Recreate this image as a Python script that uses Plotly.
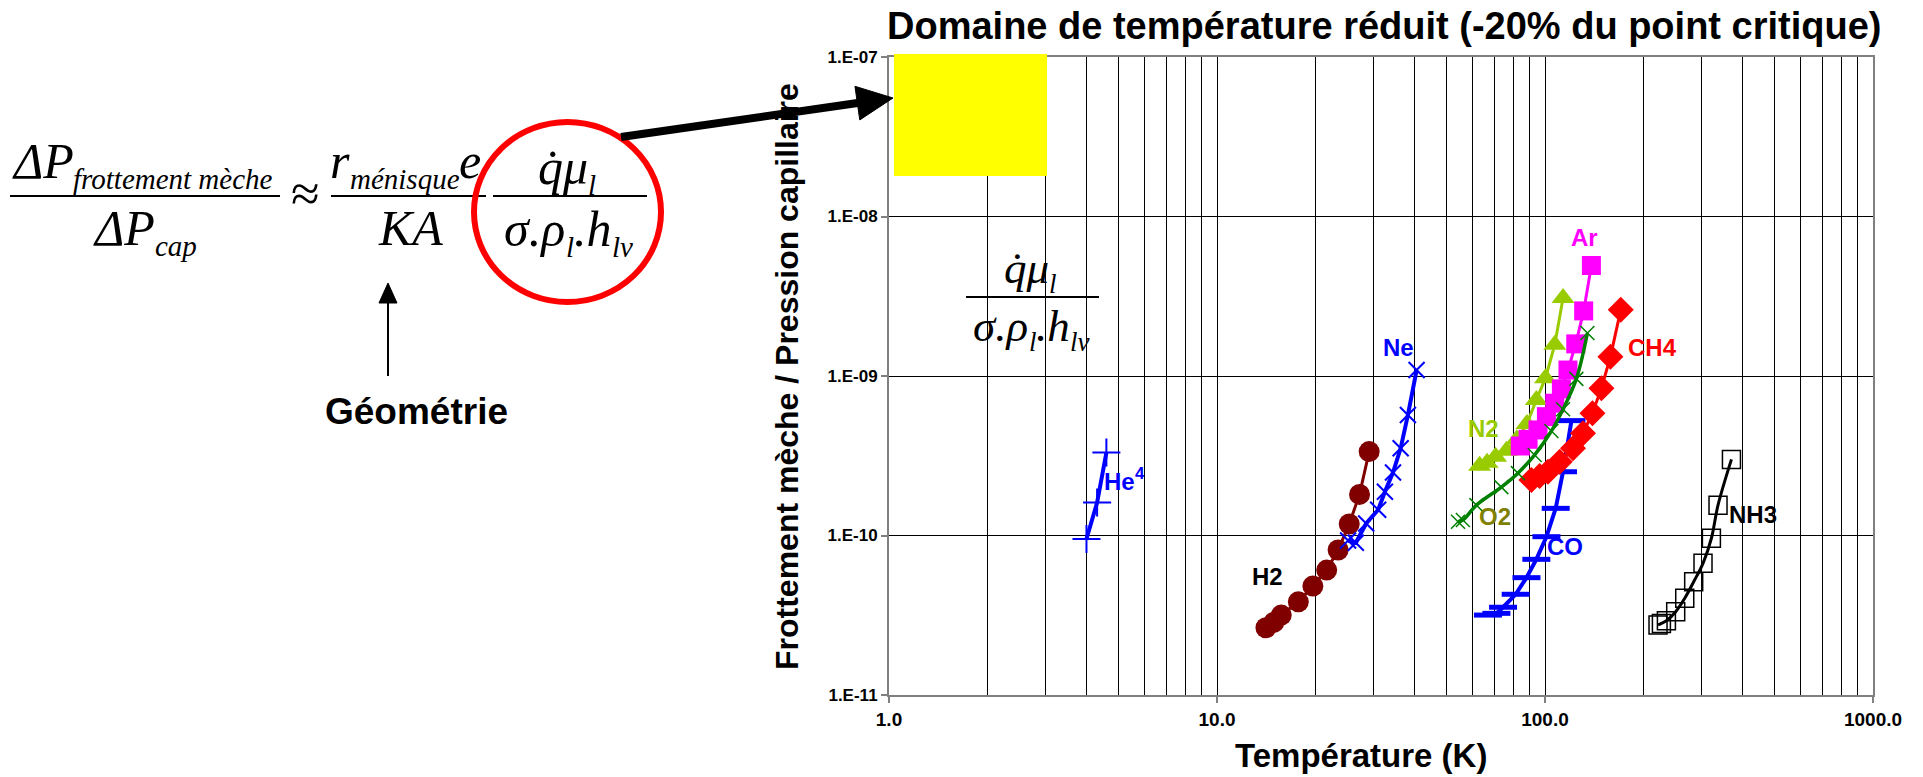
import numpy as np
import plotly.graph_objects as go

# ---------------------------------------------------------------
# Frottement mèche / pression capillaire en fonction de T (K)
# ---------------------------------------------------------------
he4_t = [4.0, 4.31, 4.60]
he4_r = [9.5e-11, 1.61e-10, 3.31e-10]

h2_t = [14.1, 14.9, 15.7, 17.7, 19.6, 21.6, 23.4, 25.3, 27.2, 29.1]
h2_r = [2.64e-11, 2.85e-11, 3.17e-11, 3.84e-11, 4.82e-11, 6.07e-11,
        8.11e-11, 1.18e-10, 1.81e-10, 3.36e-10]

ne_t = [25.1, 26.5, 28.5, 31.0, 32.5, 34.4, 36.3, 38.2, 40.6]
ne_r = [9.3e-11, 9.0e-11, 1.19e-10, 1.45e-10, 1.88e-10, 2.48e-10,
        3.52e-10, 5.70e-10, 1.09e-9]

n2_t = [63.2, 66.6, 70.7, 76.3, 82.1, 88.1, 94.1, 100.3, 107.1, 113.5]
n2_r = [2.74e-10, 2.86e-10, 3.12e-10, 3.40e-10, 4.01e-10, 5.01e-10,
        7.08e-10, 9.69e-10, 1.57e-9, 3.08e-9]

ar_t = [84.1, 88.8, 95.2, 101.0, 107.1, 112.2, 117.5, 124.1, 131.2, 138.5]
ar_r = [3.64e-10, 4.01e-10, 4.59e-10, 5.56e-10, 6.75e-10, 8.3e-10,
        1.09e-9, 1.59e-9, 2.56e-9, 4.93e-9]

o2_t = [54.3, 56.2, 61.8, 73.6, 82.7, 93.0, 104.6, 113.5, 124.6, 134.7]
o2_r = [1.22e-10, 1.25e-10, 1.55e-10, 2.01e-10, 2.46e-10, 3.2e-10,
        4.52e-10, 6.19e-10, 9.59e-10, 1.86e-9]

ch4_t = [90.9, 96.3, 102.1, 110.9, 121.7, 130.6, 139.5, 148.6, 158.3, 170.2]
ch4_r = [2.23e-10, 2.36e-10, 2.51e-10, 2.90e-10, 3.52e-10, 4.38e-10,
         5.84e-10, 8.39e-10, 1.32e-9, 2.60e-9]

co_t = [67.0, 71.1, 74.5, 81.4, 87.8, 94.1, 101.0, 107.8, 113.5, 120.4]
co_r = [3.17e-11, 3.25e-11, 3.55e-11, 4.28e-11, 5.44e-11, 7.09e-11,
        9.83e-11, 1.48e-10, 2.51e-10, 5.25e-10]

nh3_t = [221.1, 226.4, 234.5, 250.3, 266.7, 284.0, 303.2, 321.6, 336.9, 370.2]
nh3_r = [2.75e-11, 2.81e-11, 2.92e-11, 3.33e-11, 4.04e-11, 5.13e-11,
         6.69e-11, 9.61e-11, 1.55e-10, 3.0e-10]

x_tickvals = [1, 10, 100, 1000]
x_ticktext = ["1.0", "10.0", "100.0", "1000.0"]
y_tickvals = [1e-11, 1e-10, 1e-9, 1e-8, 1e-7]
y_ticktext = ["1.E-11", "1.E-10", "1.E-09", "1.E-08", "1.E-07"]

# fluid labels: (text, T, ratio, colour, anchor)
labels = [
    ("He", 4.45, 2.17e-10, "#0000FF", "left"),
    ("Ne", 35.8, 1.52e-9, "#0000FF", "center"),
    ("H2", 14.3, 5.5e-11, "#000000", "center"),
    ("N2", 65.0, 4.66e-10, "#99CC00", "center"),
    ("Ar", 132.0, 7.35e-9, "#FF00FF", "center"),
    ("O2", 70.2, 1.31e-10, "#808000", "center"),
    ("CH4", 213.0, 1.52e-9, "#FF0000", "center"),
    ("CO", 114.8, 8.48e-11, "#0000FF", "center"),
    ("NH3", 430.0, 1.345e-10, "#000000", "center"),
]

# ---------------------------------------------------------------
W, H = 1923, 777
ML, MR, MT, MB = 889, 50, 57, 82
PW, PH = W - ML - MR, H - MT - MB


def px(x):
    return (x - ML) / PW


def py(y):
    return (H - MB - y) / PH


fig = go.Figure()


def series(t, r, color, symbol, size, lw, mline=None, shape="linear"):
    marker = dict(symbol=symbol, size=size, color=color)
    if mline is not None:
        marker["line"] = dict(color=color, width=mline)
    fig.add_trace(go.Scatter(
        x=t, y=r, mode="lines+markers",
        line=dict(color=color, width=lw, shape=shape),
        marker=marker, showlegend=False, hoverinfo="skip"))


series(he4_t, he4_r, "#0000FF", "cross-thin", 20, 4, mline=2)
series(h2_t, h2_r, "#800000", "circle", 21, 3)
series(ne_t, ne_r, "#0000FF", "x-thin", 16, 4, mline=2)
series(n2_t, n2_r, "#99CC00", "triangle-up", 20, 3)
series(ar_t, ar_r, "#FF00FF", "square", 19, 3)
series(co_t, co_r, "#0000FF", "line-ew", 20, 4, mline=5)
series(ch4_t, ch4_r, "#FF0000", "diamond", 20, 3)
series(o2_t, o2_r, "#008000", "x-thin", 14, 3.5, mline=1.5, shape="spline")
series(nh3_t, nh3_r, "#000000", "square-open", 18, 3, mline=1.5, shape="spline")

annotations = []
shapes = []

for text, t, r, color, anchor in labels:
    annotations.append(dict(
        x=np.log10(t), y=np.log10(r), xref="x", yref="y", text="<b>%s</b>" % text,
        showarrow=False, xanchor=anchor, yanchor="middle",
        font=dict(family="Liberation Sans", size=24, color=color)))
# exponent of He4
annotations.append(dict(
    x=np.log10(labels[0][1]), y=np.log10(labels[0][2]), xref="x", yref="y",
    text="<b>4</b>", showarrow=False, xanchor="left", yanchor="middle",
    xshift=31, yshift=8, font=dict(family="Liberation Sans", size=17, color="#0000FF")))


def txt(x, y, text, size, family="Liberation Serif", anchor="center", color="black"):
    annotations.append(dict(
        x=px(x), y=py(y), xref="paper", yref="paper", text=text, showarrow=False,
        xanchor=anchor, yanchor="middle", borderpad=0, borderwidth=0,
        font=dict(family=family, size=size, color=color)))


# advance widths (em) of the italic serif glyphs used in the equation
ITALIC_W = {"Δ": .612, "P": .611, "f": .278, "r": .389, "o": .5, "t": .278,
            "e": .444, "m": .722, "n": .5, " ": .25, "è": .444, "c": .444,
            "h": .5, "a": .5, "p": .5, "é": .444, "i": .278, "s": .389,
            "q": .5, "u": .5, "K": .667, "A": .611, "μ": .5, "σ": .5,
            ".": .25, "ρ": .5, "l": .278, "v": .444, "\u0307": 0.0}


def width(t, size):
    return sum(ITALIC_W.get(c, .5) for c in t) * size


def row(cx, base, pieces, S, s):
    """Lay out one line of the equation: pieces are (text, is_subscript)."""
    total = sum(width(t, s if sb else S) for t, sb in pieces)
    x = cx - total / 2
    for t, sb in pieces:
        size = s if sb else S
        b = base + 0.21 * S if sb else base
        txt(x, b - 0.3375 * size, "<i>%s</i>" % t, size, anchor="left")
        x += width(t, size)


def hline(x0, x1, y, width=2, color="black"):
    shapes.append(dict(type="line", xref="paper", yref="paper",
                       x0=px(x0), x1=px(x1), y0=py(y), y1=py(y),
                       line=dict(color=color, width=width)))


def arrow(x0, y0, x1, y1, width, head_len, head_half, color="black"):
    dx, dy = x1 - x0, y1 - y0
    n = np.hypot(dx, dy)
    ux, uy = dx / n, dy / n
    bx, by = x1 - head_len * ux, y1 - head_len * uy
    shapes.append(dict(type="line", xref="paper", yref="paper",
                       x0=px(x0), y0=py(y0), x1=px(bx + 2 * ux), y1=py(by + 2 * uy),
                       line=dict(color=color, width=width)))
    pts = [(x1, y1), (bx - uy * head_half, by + ux * head_half),
           (bx + uy * head_half, by - ux * head_half)]
    path = "M " + " L ".join("%f,%f" % (px(a), py(b)) for a, b in pts) + " Z"
    shapes.append(dict(type="path", xref="paper", yref="paper", path=path,
                       fillcolor=color, line=dict(color=color, width=1)))


S, s = 50, 29   # main and subscript sizes of the equation

# ΔP frottement mèche / ΔP cap
row(143, 178, [("ΔP", False), ("frottement mèche", True)], S, s)
hline(10, 280, 196)
row(145, 245, [("ΔP", False), ("cap", True)], S, s)
txt(305, 194, "≈", 52)

# r ménisque e / KA
row(406, 178, [("r", False), ("ménisque", True), ("e", False)], S, s)
hline(331, 486, 196)
row(410, 245, [("KA", False)], S, s)

# q μl / σ.ρl.hlv
row(567, 184, [("q\u0307μ", False), ("l", True)], S, s)
hline(493, 647, 196)
row(568, 246, [("σ.ρ", False), ("l", True), (".h", False), ("lv", True)], S, s)

shapes.append(dict(type="circle", xref="paper", yref="paper",
                   x0=px(474), x1=px(661), y0=py(302), y1=py(122),
                   line=dict(color="#FF0000", width=6)))

# Géométrie
arrow(388, 376, 388, 283, 2, 20, 9)
txt(416, 411, "<b>Géométrie</b>", 37, family="Liberation Sans")

# same group, inside the plotting area
S2, s2 = 45, 27
row(1030, 283.5, [("q\u0307μ", False), ("l", True)], S2, s2)
hline(966, 1099, 297)
row(1031, 341.5, [("σ.ρ", False), ("l", True), (".h", False), ("lv", True)], S2, s2)

# highlighted zone and pointer
shapes.append(dict(type="rect", xref="paper", yref="paper", layer="above",
                   x0=px(894), x1=px(1047), y0=py(176), y1=py(54),
                   fillcolor="#FFFF00", line=dict(width=0)))
arrow(621, 137, 893, 98, 8, 36, 17)

# titles
txt(1384, 26, "<b>Domaine de température réduit (-20% du point critique)</b>", 38,
    family="Liberation Sans")
txt(1361, 755, "<b>Température (K)</b>", 33, family="Liberation Sans")
annotations.append(dict(
    x=px(787), y=py(377), xref="paper", yref="paper",
    text="<b>Frottement mèche / Pression capillaire</b>", textangle=-90,
    showarrow=False, xanchor="center", yanchor="middle",
    font=dict(family="Liberation Sans", size=32, color="black")))

minor_x = [m * 10 ** d for d in range(3) for m in range(2, 10)]

axis_common = dict(
    type="log", showline=True, linecolor="#808080", linewidth=2, mirror=True,
    ticks="outside", ticklen=6, tickcolor="#808080", tickwidth=1.5,
    showgrid=True, gridcolor="black", gridwidth=1, zeroline=False)

fig.update_layout(
    width=W, height=H,
    margin=dict(l=ML, r=MR, t=MT, b=MB),
    paper_bgcolor="white", plot_bgcolor="white",
    showlegend=False,
    xaxis=dict(axis_common, range=[0, 3], tickvals=x_tickvals,
               ticktext=["<b>%s</b>" % t for t in x_ticktext],
               tickfont=dict(family="Liberation Sans", size=19, color="black"),
               minor=dict(tickvals=minor_x, showgrid=True, gridcolor="black",
                          gridwidth=1, ticks="")),
    yaxis=dict(axis_common, range=[-11, -7], tickvals=y_tickvals,
               ticktext=["<b>%s</b>" % t for t in y_ticktext],
               tickfont=dict(family="Liberation Sans", size=17, color="black")),
    annotations=annotations,
    shapes=shapes,
)

fig.write_html("out.html", config={"displayModeBar": False})
